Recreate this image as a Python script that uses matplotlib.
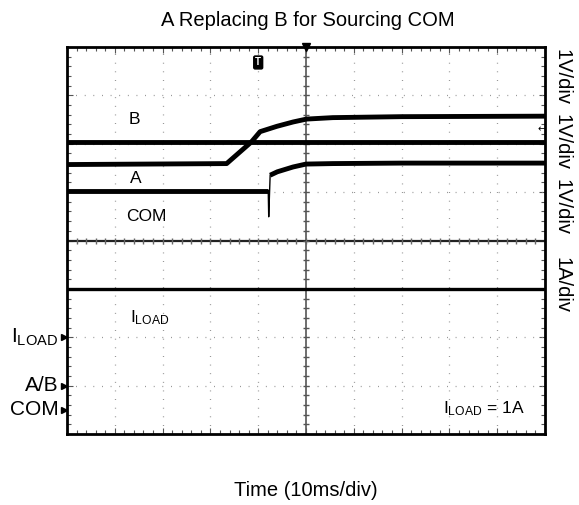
import numpy as np
import matplotlib
matplotlib.use("Agg")
from matplotlib import pyplot as plt

plt.rcParams['font.family'] = ['Liberation Sans', 'DejaVu Sans']
plt.rcParams['mathtext.fontset'] = 'custom'
plt.rcParams['mathtext.rm'] = 'Liberation Sans'
plt.rcParams['mathtext.it'] = 'Liberation Sans'

# traces, in scope divisions (time div, vertical div)
b_t = [0, 10]
b_v = [6.04, 6.04]

a_t = [0, 3.34, 3.86, 4.04, 4.39, 4.73, 5.01, 5.56, 7.0, 10]
a_v = [5.57, 5.59, 6.04, 6.25, 6.36, 6.45, 6.51, 6.54, 6.56, 6.57]

com_pre_t = [0, 4.21]
com_pre_v = [5.03, 5.03]
com_dip_t = [4.21, 4.22, 4.25]
com_dip_v = [5.03, 4.49, 5.35]
com_post_t = [4.25, 4.40, 4.73, 5.00, 5.56, 7.0, 10]
com_post_v = [5.35, 5.42, 5.52, 5.58, 5.59, 5.60, 5.60]

iload_t = [0, 10]
iload_v = [3.0, 3.0]

# ground reference markers on the left edge
ref_labels = [r'I$_{\mathrm{LOAD}}$', 'A/B', 'COM']
ref_levels = [2.0, 1.0, 0.5]

scale_labels = ['1V/div', '1V/div', '1V/div', '1A/div']
scale_y = [77, 142, 207, 285]   # pixel rows

W, H = 579, 505
fig = plt.figure(figsize=(W/100, H/100), dpi=100)
ax = fig.add_axes([67/W, (H-434)/H, 478/W, 387/H])
ax.set_xlim(0, 10)
ax.set_ylim(0, 8)

# dotted graticule
for gx in range(1, 10):
    if gx != 5:
        ax.axvline(gx, color='#8a8a8a', lw=0.9, ls=(0, (0.7, 6.2)))
for gy in range(1, 8):
    if gy != 4:
        ax.axhline(gy, color='#8a8a8a', lw=0.9, ls=(0, (0.7, 6.2)))

# center axes with small ticks
ax.axvline(5, color='#555555', lw=1.2)
ax.axhline(4, color='#222222', lw=1.6)
ax.plot(np.full(41, 5.0), np.arange(0, 8.01, 0.2), ls='none', marker='_',
        ms=5, mew=1.0, color='#555555')
ax.plot(np.arange(0, 10.01, 0.2), np.full(51, 4.0), ls='none', marker='|',
        ms=5, mew=1.0, color='#666666')

ax.set_xticks(np.arange(0, 10.01, 1))
ax.set_yticks(np.arange(0, 8.01, 1))
ax.set_xticks(np.arange(0, 10.01, 0.2), minor=True)
ax.set_yticks(np.arange(0, 8.01, 0.2), minor=True)
ax.tick_params(which='both', direction='in', top=True, right=True,
               labelbottom=False, labelleft=False, color='#555555')
ax.tick_params(which='major', length=4, width=0.8)
ax.tick_params(which='minor', length=3, width=0.8)
for s in ax.spines.values():
    s.set_linewidth(2.0)
    s.set_color('black')

# traces
ax.plot(b_t, b_v, color='black', lw=3.5, solid_capstyle='butt')
ax.plot(a_t, a_v, color='black', lw=3.5, solid_capstyle='butt')
ax.plot(com_pre_t, com_pre_v, color='black', lw=3.5, solid_capstyle='butt')
ax.plot(com_dip_t, com_dip_v, color='black', lw=1.0)
ax.plot(com_post_t, com_post_v, color='black', lw=3.5, solid_capstyle='butt')
ax.plot(iload_t, iload_v, color='black', lw=2.4, solid_capstyle='butt')

# trace names
ax.text(1.41, 6.5, 'B', fontsize=12.5, ha='center', va='center')
ax.text(1.43, 5.29, 'A', fontsize=12.5, ha='center', va='center')
ax.text(1.65, 4.5, 'COM', fontsize=12.5, ha='center', va='center')
ax.text(1.74, 2.4, r'I$_{\mathrm{LOAD}}$', fontsize=12.5, ha='center', va='center')
ax.text(8.72, 0.53, r'I$_{\mathrm{LOAD}}$ = 1A', fontsize=12.5, ha='center', va='center')

# trigger marker and position marker
ax.text(4.0, 7.68, 'T', fontsize=7, fontweight='bold', color='white',
        ha='center', va='center',
        bbox=dict(boxstyle='round,pad=0.15', fc='black', ec='black'))
ax.plot([5], [8], marker='v', ms=6, color='black', clip_on=False)
ax.text(9.93, 6.3, '\u2190', fontsize=7, ha='center', va='center',
        family='DejaVu Sans')

# left reference markers
for lab, lvl in zip(ref_labels, ref_levels):
    ax.plot([-0.07], [lvl], marker='>', ms=5, color='black', clip_on=False)
    ax.text(-0.18, lvl, lab, fontsize=15, ha='right', va='center')

# vertical scale labels on the right
for lab, py in zip(scale_labels, scale_y):
    fig.text(562/W, 1 - py/H, lab, fontsize=14.5, rotation=-90,
             ha='center', va='center')

fig.text(308/W, 1 - 20/H, 'A Replacing B for Sourcing COM', fontsize=14.5,
         ha='center', va='center')
fig.text(306/W, 1 - 490/H, 'Time (10ms/div)', fontsize=14.5,
         ha='center', va='center')

fig.savefig('out.png', dpi=100)
